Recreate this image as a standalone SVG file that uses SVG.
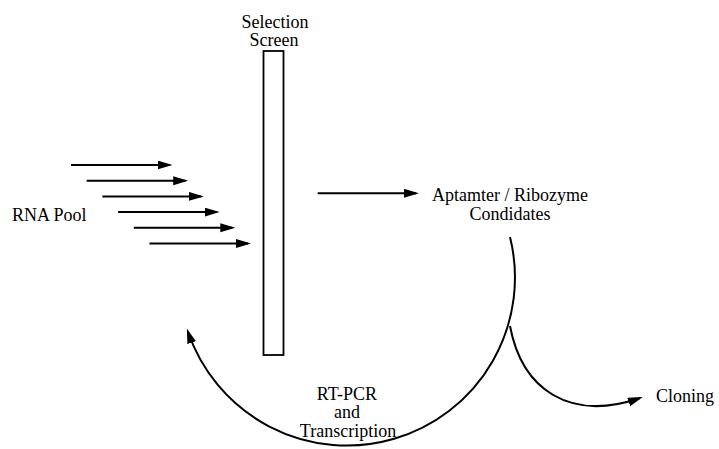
<svg xmlns="http://www.w3.org/2000/svg" width="719" height="449" viewBox="0 0 719 449">
<defs>
<style>
text{font-family:'Liberation Serif','DejaVu Serif',serif;font-size:18px;fill:#000}
.c{text-anchor:middle}
.ln{fill:none;stroke:#000;stroke-width:2}
</style>
<marker id="ah" markerUnits="userSpaceOnUse" markerWidth="16" markerHeight="10" refX="12" refY="4.5" orient="auto" viewBox="0 0 16 10">
<path d="M0,0 L15,4.5 L0,9 z" fill="#000"/>
</marker>
</defs>
<rect width="719" height="449" fill="#fff"/>
<g id="selection-screen">
<rect x="263.5" y="51" width="20" height="304" fill="#fff" stroke="#000" stroke-width="1.8"/>
<text class="c" x="275" y="28">Selection</text>
<text class="c" x="274" y="46">Screen</text>
</g>
<g id="rna-pool">
<text x="12" y="221">RNA Pool</text>
</g>
<g id="candidates">
<text x="432" y="201">Aptamter / Ribozyme</text>
<text class="c" x="510" y="220">Condidates</text>
</g>
<g id="rtpcr">
<text class="c" x="347" y="400">RT-PCR</text>
<text class="c" x="347" y="418">and</text>
<text class="c" x="348" y="437">Transcription</text>
</g>
<g id="cloning">
<text x="656" y="402">Cloning</text>
</g>
<g id="connectors">
<line class="ln" x1="71" y1="165" x2="169.5" y2="165" marker-end="url(#ah)"/>
<line class="ln" x1="86.7" y1="180.7" x2="185.2" y2="180.7" marker-end="url(#ah)"/>
<line class="ln" x1="102.4" y1="196.4" x2="200.9" y2="196.4" marker-end="url(#ah)"/>
<line class="ln" x1="118.1" y1="212.1" x2="216.6" y2="212.1" marker-end="url(#ah)"/>
<line class="ln" x1="133.8" y1="227.8" x2="232.3" y2="227.8" marker-end="url(#ah)"/>
<line class="ln" x1="149.5" y1="243.5" x2="248" y2="243.5" marker-end="url(#ah)"/>
<line class="ln" x1="317.7" y1="193.3" x2="416" y2="193.3" marker-end="url(#ah)"/>
<path class="ln" d="M510,237 A168,168 0 0 1 187.8,331.3" marker-end="url(#ah)"/>
<path class="ln" d="M510,326 C522,390 570,422 640,398" marker-end="url(#ah)"/>
</g>
</svg>
